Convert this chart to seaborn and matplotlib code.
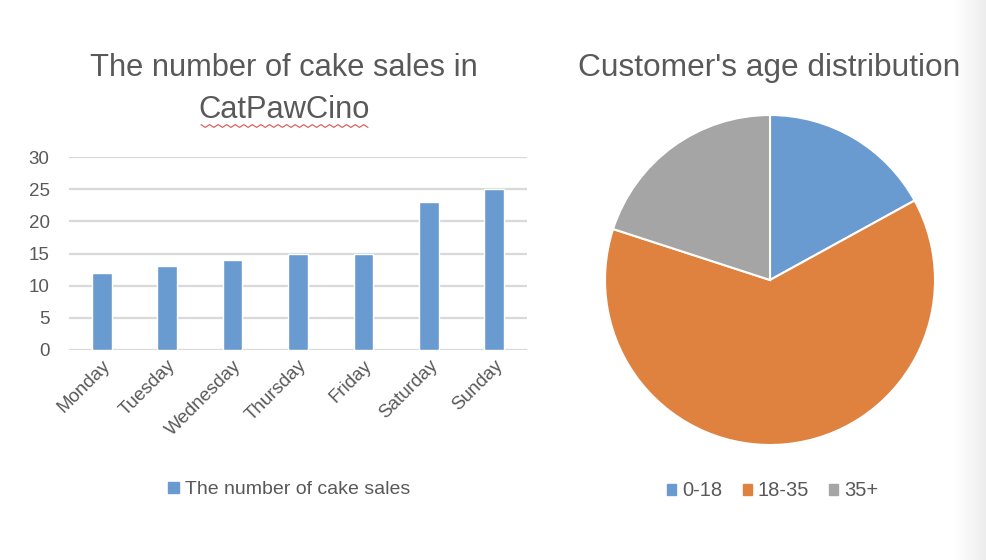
import matplotlib
matplotlib.use("Agg")
import matplotlib.pyplot as plt
import matplotlib.patches as mpatches
import numpy as np
import pandas as pd
import seaborn as sns

days = ["Monday", "Tuesday", "Wednesday", "Thursday", "Friday", "Saturday", "Sunday"]
sales = [12, 13, 14, 15, 15, 23, 25]
age_groups = ["0-18", "18-35", "35+"]
age_share = [17, 63, 20]

bar_title = "The number of cake sales in\nCatPawCino"
pie_title = "Customer's age distribution"
bar_legend = "The number of cake sales"
y_ticks = [0, 5, 10, 15, 20, 25, 30]

BLUE = "#6A9BD0"
ORANGE = "#E0823F"
GRAY = "#A5A5A5"
TXT = "#595959"
GRID = "#D9D9D9"

sns.set_theme(style="white")
plt.rcParams["font.family"] = ["Liberation Sans", "DejaVu Sans"]

fig = plt.figure(figsize=(9.86, 5.6), dpi=100)
fig.patch.set_facecolor("white")

# subtle shadow band on right edge
grad = np.linspace(0, 1, 50).reshape(1, -1)
axg = fig.add_axes([955 / 986, 0, 31 / 986, 1])
axg.imshow(grad, aspect="auto", cmap=matplotlib.colors.LinearSegmentedColormap.from_list("g", ["#FFFFFF", "#EDEDED"]))
axg.axis("off")

# ---- bar chart ----
ax = fig.add_axes([69 / 986, 1 - 350 / 560, (527 - 69) / 986, (350 - 157) / 560])
df = pd.DataFrame({"day": days, "sales": sales})
sns.barplot(data=df, x="day", y="sales", color=BLUE, width=0.3, saturation=1, ax=ax, zorder=3)
ax.set_ylim(0, 30)
ax.set_xlim(-0.5, len(days) - 0.5)
ax.set_yticks(y_ticks)
ax.yaxis.grid(True, color=GRID, linewidth=1.6, zorder=0)
ax.set_axisbelow(True)
for s in ax.spines.values():
    s.set_visible(False)
ax.set_xlabel("")
ax.set_ylabel("")
ax.tick_params(axis="both", length=0, labelsize=13.5, colors=TXT)
ax.tick_params(axis="y", pad=14)
ax.set_xticks(range(len(days)))
ax.set_xticklabels(days, rotation=45, ha="right", rotation_mode="anchor")
ax.tick_params(axis="x", pad=5)

fig.text(284 / 986, 1 - 89 / 560, bar_title, ha="center", va="center", fontsize=22.2,
         color=TXT, linespacing=1.5)
# spell-check squiggle under CatPawCino
xs = np.linspace(201 / 986, 368 / 986, 40)
ys = 1 - (126 / 560) + np.where(np.arange(40) % 2 == 0, 0.0025, -0.0025)
fig.add_artist(plt.Line2D(xs, ys, color="#D9534F", linewidth=0.8, transform=fig.transFigure))

fig.legend(handles=[mpatches.Patch(color=BLUE, label=bar_legend)], loc="center",
           bbox_to_anchor=(289 / 986, 1 - 490 / 560), frameon=False, fontsize=14,
           handlelength=0.55, handleheight=0.55, handletextpad=0.3, labelcolor=TXT)

# ---- pie chart ----
axp = fig.add_axes([605 / 986, 1 - 445 / 560, 330 / 986, 330 / 560])
axp.pie(age_share, colors=[BLUE, ORANGE, GRAY], startangle=90, counterclock=False,
        wedgeprops=dict(edgecolor="white", linewidth=1.5))
axp.set_aspect("equal")
axp.set_xlim(-1.0, 1.0)
axp.set_ylim(-1.0, 1.0)

fig.text(769 / 986, 1 - 68 / 560, pie_title, ha="center", va="center", fontsize=22.8, color=TXT)

handles = [mpatches.Patch(color=c, label=l) for c, l in zip([BLUE, ORANGE, GRAY], age_groups)]
fig.legend(handles=handles, loc="center", bbox_to_anchor=(773 / 986, 1 - 491 / 560), ncol=3,
           frameon=False, fontsize=14.5, handlelength=0.45, handleheight=0.45,
           handletextpad=0.3, columnspacing=1.0, labelcolor=TXT)

fig.savefig("out.png", dpi=100, facecolor="white")
